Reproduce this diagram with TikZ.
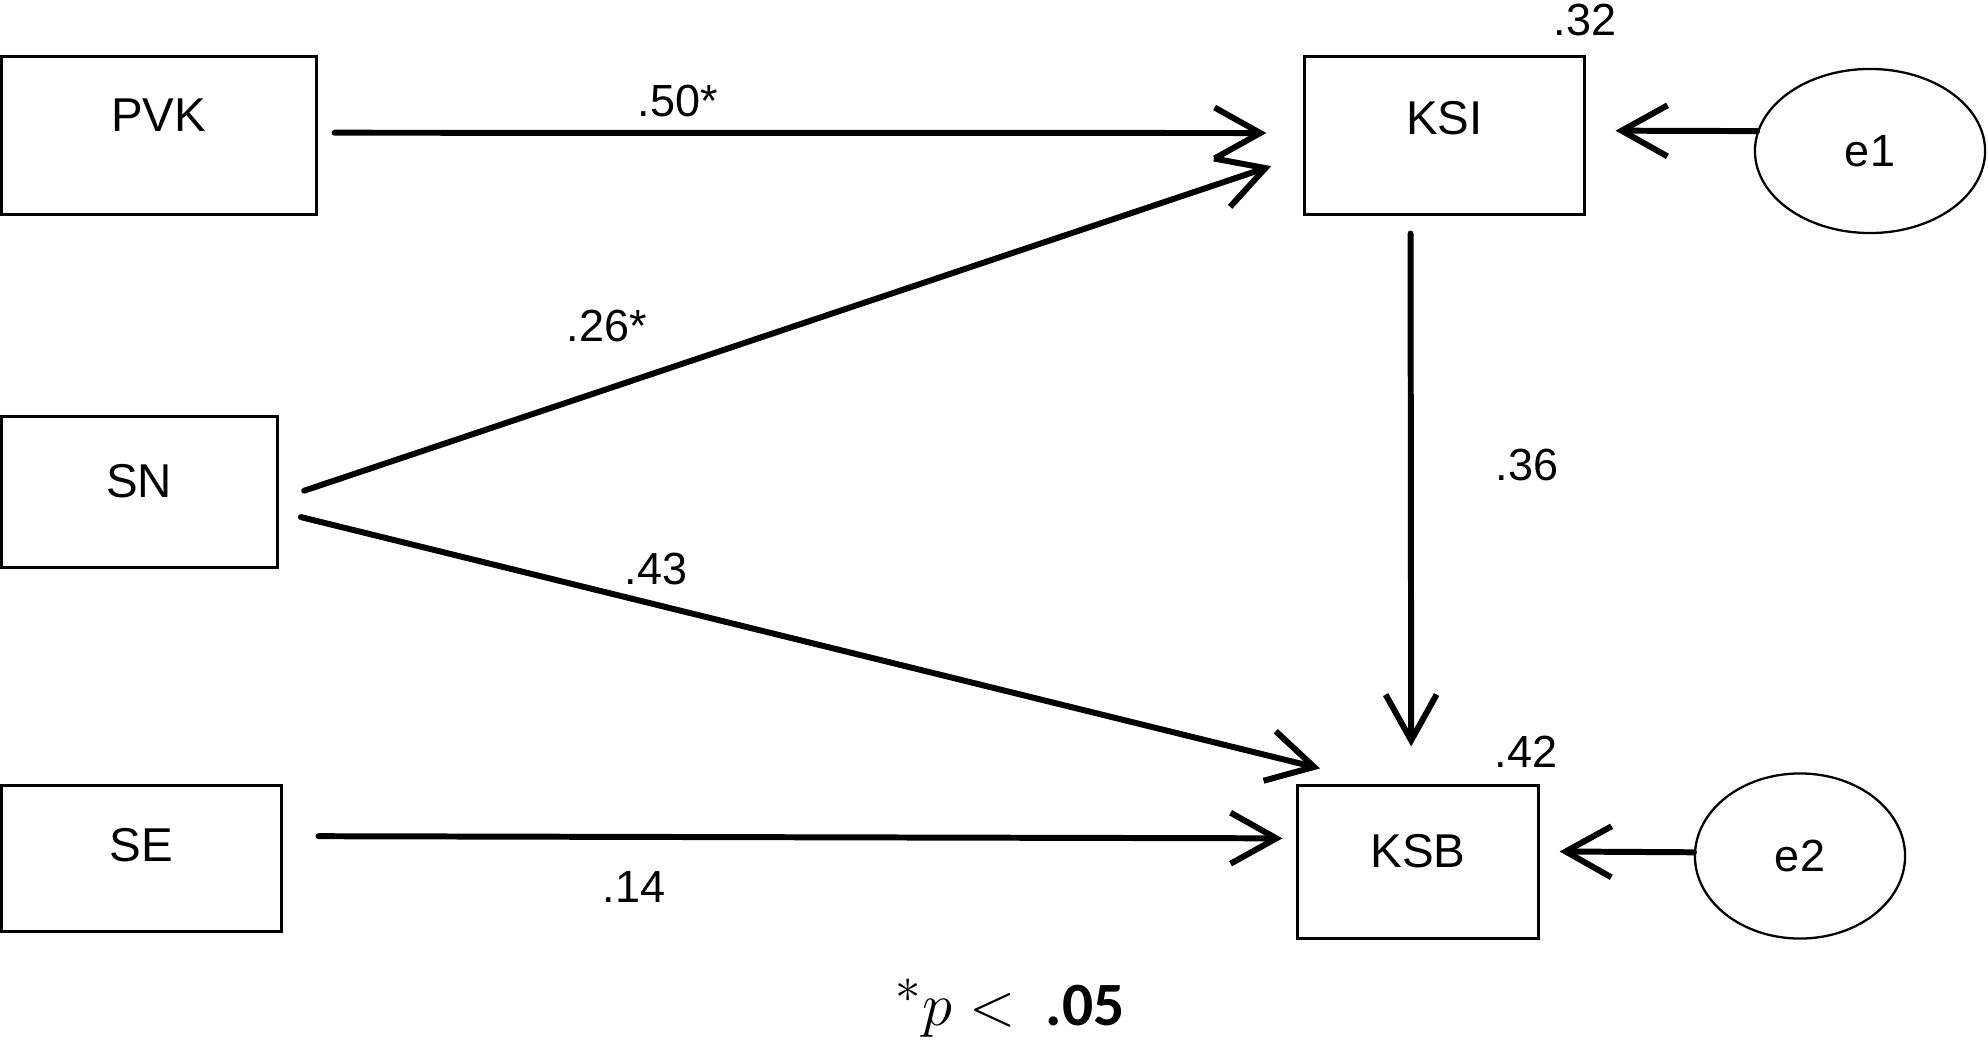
\documentclass[tikz,border=0pt]{standalone}
\usepackage{fontspec}
\setmainfont{Liberation Sans}
\newfontfamily\notefont{Carlito}
\usetikzlibrary{arrows.meta,shapes.geometric}

\begin{document}
\begin{tikzpicture}[x=0.01cm, y=-0.01cm, >={Straight Barb[length=13pt,width=14.5pt]},
    var/.style={draw, line width=0.85pt, inner sep=0pt, font=\fontsize{13.5}{16}\selectfont, text height=9.7pt},
    err/.style={draw, ellipse, line width=0.65pt, inner sep=0pt, font=\fontsize{12.8}{15}\selectfont},
    coef/.style={inner sep=0pt, font=\fontsize{12.8}{15}\selectfont, text height=9.2pt, text depth=0pt},
    eff/.style={->, line width=1.7pt, line cap=round}]

    \useasboundingbox (0,0) rectangle (1988,1040);

    % Observed variables
    \node[var, minimum width=3.145cm, minimum height=1.57cm, text depth=12.2pt] (pvk) at (158.75,135.5) {PVK};
    \node[var, minimum width=2.755cm, minimum height=1.505cm, text depth=6.8pt] (sn) at (139.25,492) {SN};
    \node[var, minimum width=2.795cm, minimum height=1.45cm, text depth=8.2pt] (se) at (141.25,858.5) {SE};
    \node[var, minimum width=2.79cm, minimum height=1.57cm, text depth=10.5pt] (ksi) at (1444.5,135.5) {KSI};
    \node[var, minimum width=2.4cm, minimum height=1.52cm, text depth=6.3pt] (ksb) at (1418,862) {KSB};

    % Error terms
    \node[err, minimum width=2.3cm, minimum height=1.64cm] (e1) at (1870,151) {e1};
    \node[err, minimum width=2.1cm, minimum height=1.65cm] (e2) at (1800,856) {e2};

    % Paths
    \draw[eff, shorten <=0.17cm, shorten >=0.37cm] (pvk.1) -- (ksi.179);
    \draw[eff, shorten <=0.27cm, shorten >=0.34cm] (sn.-3) -- (ksi.188);
    \draw[eff, shorten <=0.23cm, shorten >=0.67cm] (sn.-8) -- (ksb.113);
    \draw[eff, shorten <=0.36cm, shorten >=0.14cm] (se.9) -- (ksb.169);
    \draw[eff, shorten <=0.18cm, shorten >=0.38cm] (ksi.247) -- (ksb.95);
    \draw[eff, shorten >=0.30cm] (e1.170) -- (ksi.2);
    \draw[eff, shorten >=0.20cm] (e2.178) -- (ksb.5);

    % Coefficients
    \node[coef] (b1) at (678,100) {.50*};
    \node[coef] (b2) at (607,325) {.26*};
    \node[coef] (b3) at (656,568) {.43};
    \node[coef] (b4) at (634,886) {.14};
    \node[coef] (b5) at (1527,464) {.36};

    % Explained variance
    \node[coef] (r1) at (1585,19) {.32};
    \node[coef] (r2) at (1526,751) {.42};

    % Note
    \node[anchor=base, inner sep=0pt, font=\fontsize{19}{22}\selectfont] (note) at (1010,1025)
      {$^{*}p<$\hspace{0.3cm}{\notefont\bfseries\fontsize{17.5}{20}\selectfont .05}};
\end{tikzpicture}
\end{document}
